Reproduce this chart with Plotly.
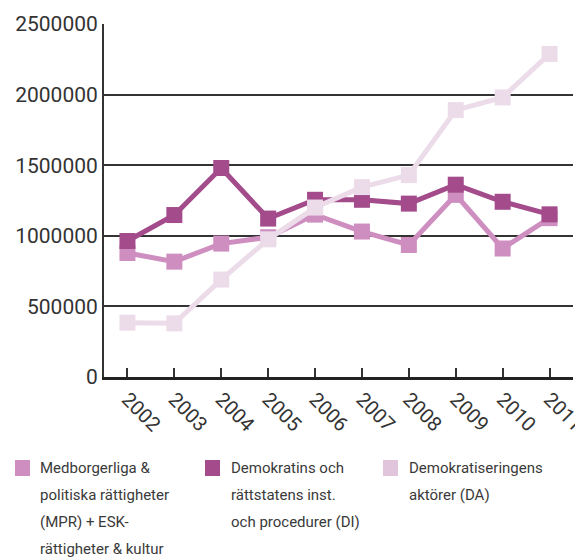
import plotly.graph_objects as go

years = ["2002", "2003", "2004", "2005", "2006", "2007", "2008", "2009", "2010", "2011"]
mpr = [878000, 817000, 945000, 990000, 1150000, 1030000, 935000, 1290000, 910000, 1125000]
di = [963000, 1147000, 1480000, 1122000, 1255000, 1255000, 1228000, 1362000, 1241000, 1152000]
da = [385000, 380000, 690000, 975000, 1200000, 1345000, 1430000, 1890000, 1980000, 2288000]

names = [
    ["Medborgerliga &", "politiska rättigheter", "(MPR) + ESK-", "rättigheter & kultur"],
    ["Demokratins och", "rättstatens inst.", "och procedurer (DI)"],
    ["Demokratiseringens", "aktörer (DA)"],
]
line_colors = ["#cf8ec0", "#a34b8b", "#ecdcea"]
swatch_colors = ["#cf8ec0", "#a34b8b", "#e1c5dd"]
series = [mpr, di, da]

# page offset from default body margin
OFF = 8
W, H = 583 - OFF, 559 - OFF
# target plot area in window pixels: x 104..573, y 24..377
ML, MR = 104 - OFF, 583 - 573
MT, MB = 24 - OFF, 559 - 377
PW = W - ML - MR
PH = H - MT - MB

fig = go.Figure()
for vals, col in zip(series, line_colors):
    fig.add_trace(go.Scatter(
        x=years, y=vals, mode="lines+markers",
        line=dict(color=col, width=5),
        marker=dict(symbol="square", size=16, color=col),
        showlegend=False,
    ))

def px_x(px):
    return (px - 104) / PW

def px_y(py):
    return (377 - py) / PH

swatch_x = [15, 205, 383]
text_x = [38, 229, 407]
line_y0 = 468
line_step = 27
shapes = []
annotations = []
for i in range(3):
    shapes.append(dict(
        type="rect", xref="paper", yref="paper",
        x0=px_x(swatch_x[i]), x1=px_x(swatch_x[i] + 15),
        y0=px_y(line_y0 - 8), y1=px_y(line_y0 + 8),
        fillcolor=swatch_colors[i], line=dict(width=0), layer="above",
    ))
    for j, t in enumerate(names[i]):
        annotations.append(dict(
            text=t, xref="paper", yref="paper",
            x=px_x(text_x[i]), y=px_y(line_y0 + j * line_step),
            xanchor="left", yanchor="middle", showarrow=False,
            font=dict(family="Roboto", size=15, color="#3a3a3a"),
        ))

fig.update_layout(
    width=W, height=H,
    margin=dict(l=ML, r=MR, t=MT, b=MB, autoexpand=False),
    paper_bgcolor="white", plot_bgcolor="white",
    shapes=shapes, annotations=annotations,
    xaxis=dict(
        type="category", range=[-0.5, 9.5], automargin=False,
        showgrid=False, showline=True, linecolor="#222", linewidth=2.5,
        ticks="inside", ticklen=9, tickwidth=1.5, tickcolor="#333",
        tickangle=45,
        tickfont=dict(family="Roboto", size=20, color="#333"),
    ),
    yaxis=dict(
        range=[0, 2500000], automargin=False,
        tickvals=[0, 500000, 1000000, 1500000, 2000000, 2500000],
        ticktext=["0", "500000", "1000000", "1500000", "2000000", "2500000"],
        showgrid=True, gridcolor="#333", gridwidth=1.5,
        showline=True, linecolor="#333", linewidth=2,
        zeroline=False,
        tickfont=dict(family="Roboto", size=21, color="#333"),
    ),
)

fig.write_html("out.html")
